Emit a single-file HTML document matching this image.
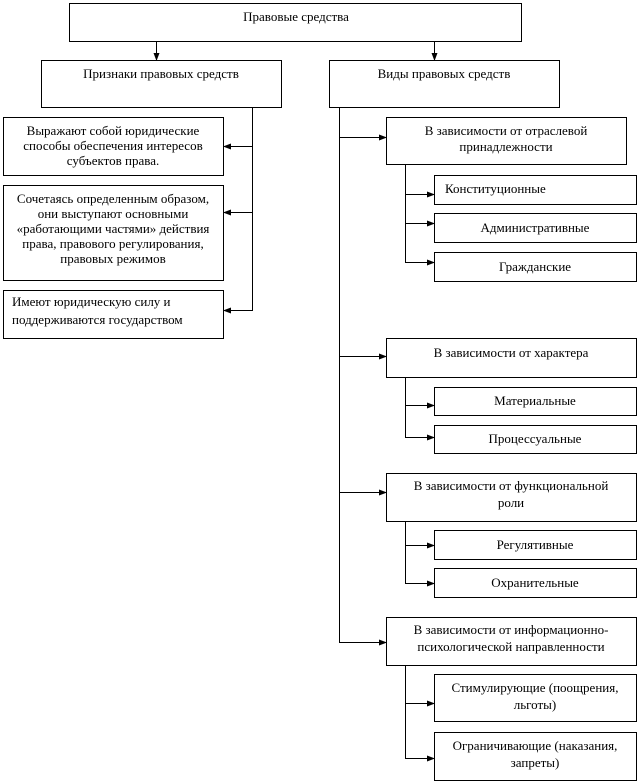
<!DOCTYPE html>
<html><head><meta charset="utf-8"><style>
html,body{margin:0;padding:0;background:#fff;}
svg{display:block;}
text{font-family:"Liberation Serif","Noto Serif CJK SC",serif;font-size:13px;fill:#000;}
</style></head><body>
<svg width="639" height="783" viewBox="0 0 639 783" xmlns="http://www.w3.org/2000/svg">
<defs>
<marker id="a" markerWidth="8" markerHeight="6" refX="7" refY="3" orient="auto" markerUnits="userSpaceOnUse">
<path d="M0,0 L8,3 L0,6 Z" fill="#000"/></marker>
</defs>
<g fill="#fff" stroke="#000" stroke-width="1">
<rect x="69.5" y="3.5" width="452" height="38"/>
<rect x="41.5" y="60.5" width="240" height="47"/>
<rect x="329.5" y="60.5" width="230" height="47"/>
<rect x="3.5" y="117.5" width="220" height="58"/>
<rect x="3.5" y="185.5" width="220" height="95"/>
<rect x="3.5" y="290.5" width="220" height="48"/>
<rect x="386.5" y="117.5" width="240" height="47"/>
<rect x="434.5" y="175.5" width="202" height="29"/>
<rect x="434.5" y="213.5" width="202" height="29"/>
<rect x="434.5" y="252.5" width="202" height="29"/>
<rect x="386.5" y="338.5" width="250" height="39"/>
<rect x="434.5" y="387.5" width="202" height="28"/>
<rect x="434.5" y="425.5" width="202" height="28"/>
<rect x="386.5" y="473.5" width="250" height="48"/>
<rect x="434.5" y="530.5" width="202" height="29"/>
<rect x="434.5" y="568.5" width="202" height="29"/>
<rect x="386.5" y="617.5" width="250" height="48"/>
<rect x="434.5" y="674.5" width="202" height="47"/>
<rect x="434.5" y="732.5" width="202" height="48"/>
</g>
<g stroke="#000" stroke-width="1" fill="none">
<line x1="156.5" y1="41" x2="156.5" y2="60" marker-end="url(#a)"/>
<line x1="434.5" y1="41" x2="434.5" y2="60" marker-end="url(#a)"/>
<polyline points="252.5,107 252.5,310.5 224,310.5" marker-end="url(#a)"/>
<line x1="252.5" y1="146.5" x2="224" y2="146.5" marker-end="url(#a)"/>
<line x1="252.5" y1="212.5" x2="224" y2="212.5" marker-end="url(#a)"/>
<polyline points="339.5,107 339.5,642.5 386,642.5" marker-end="url(#a)"/>
<line x1="339.5" y1="137.5" x2="386" y2="137.5" marker-end="url(#a)"/>
<line x1="339.5" y1="356.5" x2="386" y2="356.5" marker-end="url(#a)"/>
<line x1="339.5" y1="492.5" x2="386" y2="492.5" marker-end="url(#a)"/>
<polyline points="405.5,165 405.5,262.5 434,262.5" marker-end="url(#a)"/>
<line x1="405.5" y1="194.5" x2="434" y2="194.5" marker-end="url(#a)"/>
<line x1="405.5" y1="223.5" x2="434" y2="223.5" marker-end="url(#a)"/>
<polyline points="405.5,378 405.5,437.5 434,437.5" marker-end="url(#a)"/>
<line x1="405.5" y1="405.5" x2="434" y2="405.5" marker-end="url(#a)"/>
<polyline points="405.5,522 405.5,583.5 434,583.5" marker-end="url(#a)"/>
<line x1="405.5" y1="545.5" x2="434" y2="545.5" marker-end="url(#a)"/>
<polyline points="405.5,666 405.5,758.5 434,758.5" marker-end="url(#a)"/>
<line x1="405.5" y1="703.5" x2="434" y2="703.5" marker-end="url(#a)"/>
</g>
<g text-anchor="middle">
<text x="296" y="21">Правовые средства</text>
<text x="161" y="78">Признаки правовых средств</text>
<text x="444" y="78">Виды правовых средств</text>
<text x="113" y="135">Выражают собой юридические</text>
<text x="113" y="150">способы обеспечения интересов</text>
<text x="113" y="165">субъектов права.</text>
<text x="113" y="203">Сочетаясь определенным образом,</text>
<text x="113" y="218">они выступают основными</text>
<text x="113" y="233">«работающими частями» действия</text>
<text x="113" y="248">права, правового регулирования,</text>
<text x="113" y="263">правовых режимов</text>
<text x="506" y="135">В зависимости от отраслевой</text>
<text x="506" y="151">принадлежности</text>
<text x="535" y="271">Гражданские</text>
<text x="535" y="232">Административные</text>
<text x="511" y="357">В зависимости от характера</text>
<text x="535" y="405">Материальные</text>
<text x="535" y="443">Процессуальные</text>
<text x="511" y="490">В зависимости от функциональной</text>
<text x="511" y="507">роли</text>
<text x="535" y="549">Регулятивные</text>
<text x="535" y="587">Охранительные</text>
<text x="511" y="634">В зависимости от информационно-</text>
<text x="511" y="651">психологической направленности</text>
<text x="535" y="692">Стимулирующие (поощрения,</text>
<text x="535" y="709">льготы)</text>
<text x="535" y="750">Ограничивающие (наказания,</text>
<text x="535" y="767">запреты)</text>
</g>
<text x="12" y="306">Имеют юридическую силу и</text>
<text x="12" y="324">поддерживаются государством</text>
<text x="445" y="193">Конституционные</text>
</svg>
</body></html>
